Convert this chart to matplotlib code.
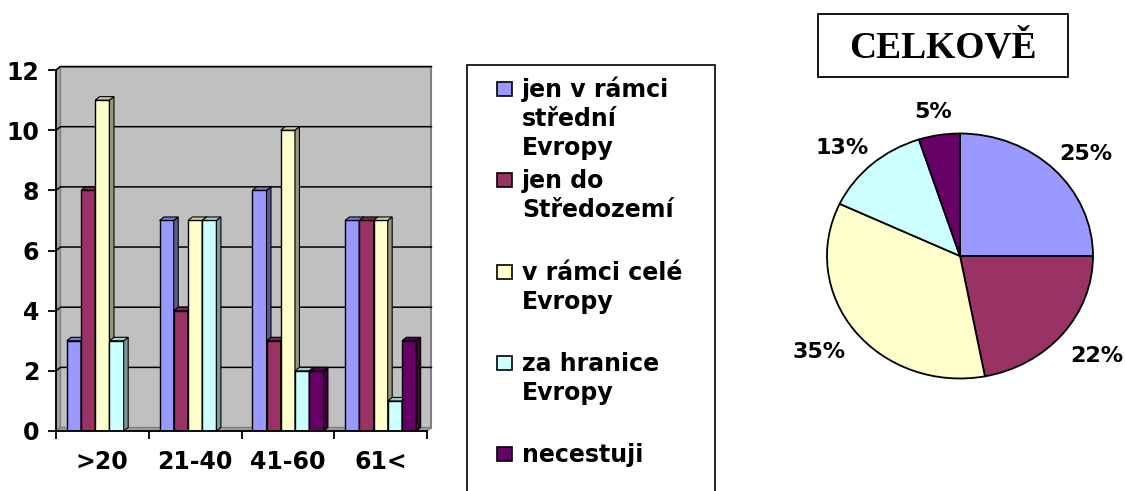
import numpy as np
import matplotlib
matplotlib.use('Agg')
import matplotlib.pyplot as plt
from matplotlib.patches import Polygon, Rectangle

# Data
categories = ['>20', '21-40', '41-60', '61<']
series_labels = ['jen v rámci\nstřední\nEvropy', 'jen do\nStředozemí',
                 'v rámci celé\nEvropy', 'za hranice\nEvropy', 'necestuji']
stredni_evropa = [3, 7, 8, 7]
stredozemi = [8, 4, 3, 7]
cela_evropa = [11, 7, 10, 7]
za_hranice = [3, 7, 2, 1]
necestuji = [0, 0, 2, 3]
colors = ['#9999FF', '#993366', '#FFFFCC', '#CCFFFF', '#660066']
pie_title = 'CELKOVĚ'

W, H = 1125, 491


def fx(px):
    return px / W


def fy(py):
    return 1 - py / H


def shade(c, k):
    r, g, b = matplotlib.colors.to_rgb(c)
    return (r * k, g * k, b * k)


plt.rcParams['font.family'] = ['DejaVu Sans']
plt.rcParams['font.weight'] = 'bold'

fig = plt.figure(figsize=(W / 100, H / 100), dpi=100)

# ---- 3D-looking bar chart ----
ax = fig.add_axes([fx(56), fy(431), fx(427) - fx(56), fy(70) - fy(431)])
ax.set_xlim(-0.5, 3.5)
ax.set_ylim(0, 12)

dx, dy = 0.048, 0.115  # depth of the fake 3D in data units
gray = '#C0C0C0'

# back wall, side wall and floor
ax.add_patch(Polygon([(-0.5 + dx, dy), (3.5 + dx, dy), (3.5 + dx, 12 + dy), (-0.5 + dx, 12 + dy)],
                     closed=True, facecolor=gray, edgecolor='#808080', lw=1.5, clip_on=False, zorder=0))
ax.add_patch(Polygon([(-0.5, 0), (-0.5 + dx, dy), (-0.5 + dx, 12 + dy), (-0.5, 12)],
                     closed=True, facecolor='#A0A0A0', edgecolor='#808080', lw=1, clip_on=False, zorder=0))
ax.add_patch(Polygon([(-0.5, 0), (3.5, 0), (3.5 + dx, dy), (-0.5 + dx, dy)],
                     closed=True, facecolor='#A0A0A0', edgecolor='#808080', lw=1, clip_on=False, zorder=0))
for yv in range(2, 13, 2):
    ax.plot([-0.5, -0.5 + dx, 3.5 + dx], [yv, yv + dy, yv + dy], color='black', lw=1.1,
            clip_on=False, zorder=0.5)

all_series = [stredni_evropa, stredozemi, cela_evropa, za_hranice, necestuji]
x = np.arange(len(categories))
bw = 0.1535
for j, vals in enumerate(all_series):
    xs = x + (j - 2) * bw
    for xi, v in zip(xs, vals):
        if v == 0:
            continue
        x0 = xi - bw / 2
        ax.bar(xi, v, bw, color=colors[j], edgecolor='black', lw=1, zorder=2)
        ax.add_patch(Polygon([(x0 + bw, 0), (x0 + bw + dx, dy), (x0 + bw + dx, v + dy), (x0 + bw, v)],
                             closed=True, facecolor=shade(colors[j], 0.6), edgecolor='black',
                             lw=0.8, zorder=2, clip_on=False))
        ax.add_patch(Polygon([(x0, v), (x0 + dx, v + dy), (x0 + bw + dx, v + dy), (x0 + bw, v)],
                             closed=True, facecolor=shade(colors[j], 0.8), edgecolor='black',
                             lw=0.8, zorder=2, clip_on=False))

ax.set_facecolor('none')
for s in ['top', 'right']:
    ax.spines[s].set_visible(False)
ax.spines['left'].set_linewidth(1.3)
ax.spines['bottom'].set_linewidth(1.3)
ax.spines['left'].set_zorder(3)
ax.spines['bottom'].set_zorder(3)

ax.set_yticks(range(0, 13, 2))
ax.tick_params(axis='y', length=6, width=1.3, pad=6, labelsize=17)
ax.set_xticks([-0.5, 0.5, 1.5, 2.5, 3.5])
ax.set_xticklabels([])
ax.set_xticks(x, minor=True)
ax.set_xticklabels(categories, minor=True)
ax.tick_params(axis='x', which='major', length=6, width=1.3)
ax.tick_params(axis='x', which='minor', length=0, pad=14, labelsize=17)

# ---- legend drawn by hand ----
fig.patches.append(Rectangle((fx(467), fy(495)), fx(715) - fx(467), fy(65) - fy(495),
                             transform=fig.transFigure, facecolor='white', edgecolor='black',
                             lw=1.2, clip_on=False))
for i, lab in enumerate(series_labels):
    base = 97 + i * 91.3
    fig.patches.append(Rectangle((fx(497), fy(base - 1)), fx(512) - fx(497), fy(base - 15) - fy(base - 1),
                                 transform=fig.transFigure, facecolor=colors[i],
                                 edgecolor='black', lw=1.2))
    for k, line in enumerate(lab.split('\n')):
        fig.text(fx(522), fy(base + k * 29), line, fontsize=17, fontweight='bold',
                 va='baseline', ha='left')

# ---- pie chart ----
totals = [sum(s) for s in all_series]
rx, ry = 133, 122.5
lim = 1.4
pax = fig.add_axes([fx(960 - lim * rx), fy(256 + lim * ry), fx(2 * lim * rx), 2 * lim * ry / H])
wedges, _, pct_texts = pax.pie(totals, colors=colors, startangle=90, counterclock=False,
                               autopct='%.0f%%', pctdistance=1.2,
                               wedgeprops=dict(edgecolor='black', linewidth=1.3),
                               textprops=dict(fontsize=16, fontweight='bold'))
pax.set_aspect('auto')
pax.set_xlim(-lim, lim)
pax.set_ylim(-lim, lim)
pax.axis('off')

# push each label out so its box sits just outside the slice (like Excel)
fig.canvas.draw()
renderer = fig.canvas.get_renderer()
inv = pax.transData.inverted()
for w, t in zip(wedges, pct_texts):
    ang = np.deg2rad((w.theta1 + w.theta2) / 2)
    bb = t.get_window_extent(renderer)
    p0 = inv.transform((bb.x0, bb.y0))
    p1 = inv.transform((bb.x1, bb.y1))
    hw, hh = (p1[0] - p0[0]) / 2, (p1[1] - p0[1]) / 2
    d = 1.14
    t.set_position((d * np.cos(ang) + hw * np.cos(ang),
                    d * np.sin(ang) + hh * np.sin(ang) - 0.035))

# title box
fig.patches.append(Rectangle((fx(818), fy(77)), fx(1068) - fx(818), fy(14) - fy(77),
                             transform=fig.transFigure, facecolor='white', edgecolor='black', lw=1.3))
fig.text(fx(943), fy(48), pie_title, fontsize=27, fontweight='bold', family='Liberation Serif',
         ha='center', va='center')

plt.savefig('out.png', dpi=100)
